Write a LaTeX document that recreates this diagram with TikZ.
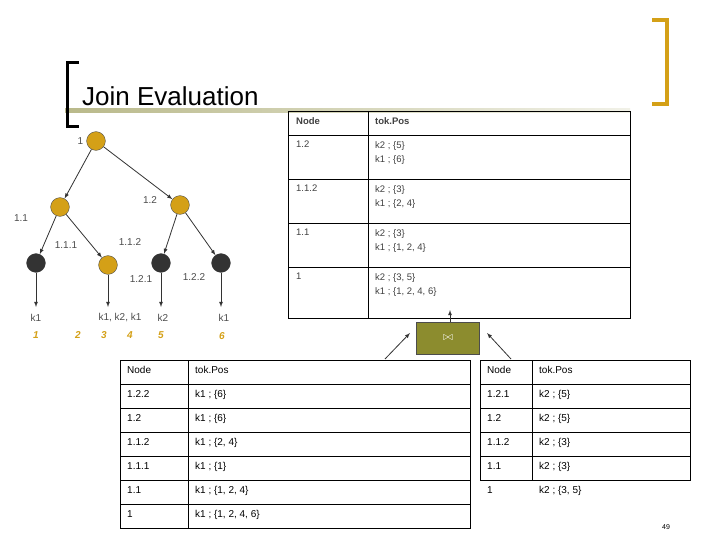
\documentclass[tikz,border=0pt]{standalone}
\usepackage{fontspec}
\setmainfont{Liberation Sans}
\usetikzlibrary{positioning}
\definecolor{gold}{HTML}{D4A017}
\definecolor{olivebox}{HTML}{8C8C2E}
\definecolor{ttl}{HTML}{B9B98A}
\tikzset{%
  gnode/.style={circle, draw=black!70, fill=gold, minimum size=6.6mm, inner sep=0pt},
  leafnode/.style={circle, draw=black!80, fill=black!80, minimum size=6.6mm, inner sep=0pt},
  lbl/.style={font=\fontsize{10}{12}\selectfont, text=black!70, inner sep=1pt},
  tokpos/.style={font=\fontsize{10}{12}\selectfont\itshape\bfseries, text=gold, inner sep=1pt},
  cell/.style={font=\fontsize{9.5}{14}\selectfont, text=black!75, anchor=north west, align=left, inner sep=0pt},
  head/.style={cell, font=\fontsize{9.5}{14}\selectfont\bfseries},
  arr/.style={-latex, thick, black!80},
}
\begin{document}
\begin{tikzpicture}[x=1pt,y=-1pt]
  \useasboundingbox (0,0) rectangle (720,540);
  % title
  \shade[left color=ttl, right color=ttl!20] (65,109) rectangle (630,113);
  \draw[line width=3pt] (79,63) -- (67,63) -- (67,127) -- (79,127);
  \draw[line width=4pt, gold] (652,20) -- (667,20) -- (667,104) -- (652,104);
  \node[font=\fontsize{26}{30}\selectfont, anchor=base west, inner sep=0pt] (title) at (82,106) {Join Evaluation};
  % tree
  \node[gnode] (n1) at (96,141) {};
  \node[gnode] (n11) at (60,207) {};
  \node[gnode] (n12) at (180,205) {};
  \node[leafnode] (n111) at (36,263) {};
  \node[gnode] (n112) at (108,265) {};
  \node[leafnode] (n121) at (161,263) {};
  \node[leafnode] (n122) at (221,263) {};
  \node[lbl, left=2pt of n1] {1};
  \node[lbl] at (21,218) {1.1};
  \node[lbl] at (150,200) {1.2};
  \node[lbl] at (66,245) {1.1.1};
  \node[lbl] at (130,242) {1.1.2};
  \node[lbl] at (141,279) {1.2.1};
  \node[lbl] at (194,277) {1.2.2};
  \coordinate (e1) at (36,307);
  \coordinate (e2) at (108,307);
  \coordinate (e3) at (161,307);
  \coordinate (e4) at (221,307);
  \node[lbl] at (36,318) {k1};
  \node[lbl] at (120,318) {k1, k2, k1};
  \node[lbl] at (163,318) {k2};
  \node[lbl] at (224,318) {k1};
  \node[tokpos] at (36,335) {1};
  \node[tokpos] at (78,335) {2};
  \node[tokpos] at (104,335) {3};
  \node[tokpos] at (130,335) {4};
  \node[tokpos] at (161,335) {5};
  \node[tokpos] at (222,336) {6};
  \draw[arr] (n1) -- (n11);
  \draw[arr] (n1) -- (n12);
  \draw[arr] (n11) -- (n111);
  \draw[arr] (n11) -- (n112);
  \draw[arr] (n12) -- (n121);
  \draw[arr] (n12) -- (n122);
  \draw[arr] (n111) -- (e1);
  \draw[arr] (n112) -- (e2);
  \draw[arr] (n121) -- (e3);
  \draw[arr] (n122) -- (e4);
  % result table
  \draw[thick] (288,111) rectangle (630,318);
  \draw[thick] (368,111) -- (368,318);
  \foreach \y in {135,179,223,267} \draw[thick] (288,\y) -- (630,\y);
  \node[head] at (296,117) {Node};
  \node[head] at (375,117) {tok.Pos};
  \node[cell] at (296,141) {1.2};
  \node[cell] at (375,141) {k2 ; \{5\}\\k1 ; \{6\}};
  \node[cell] at (296,185) {1.1.2};
  \node[cell] at (375,185) {k2 ; \{3\}\\k1 ; \{2, 4\}};
  \node[cell] at (296,229) {1.1};
  \node[cell] at (375,229) {k2 ; \{3\}\\k1 ; \{1, 2, 4\}};
  \node[cell] at (296,273) {1};
  \node[cell] at (375,273) {k2 ; \{3, 5\}\\k1 ; \{1, 2, 4, 6\}};
  % join
  \node[draw=black!70, fill=olivebox, minimum width=63pt, minimum height=32pt, text=white, font=\bfseries\large] (join) at (448,338) {$\bowtie$};
  \coordinate (jl) at (385,359);
  \coordinate (jr) at (511,359);
  \coordinate (jt) at (450,310);
  \draw[arr] (jl) -- (410,333);
  \draw[arr] (jr) -- (487,333);
  \draw[arr] (join.north -| jt) -- (jt);
  % left table
  \draw (120,360) rectangle (470,528);
  \draw (188,360) -- (188,528);
  \foreach \y in {384,408,432,456,480,504} \draw (120,\y) -- (470,\y);
  \foreach \n/\t [count=\i from 0] in {Node/tok.Pos, 1.2.2/{k1 ; \{6\}}, 1.2/{k1 ; \{6\}}, 1.1.2/{k1 ; \{2, 4\}}, 1.1.1/{k1 ; \{1\}}, 1.1/{k1 ; \{1, 2, 4\}}, 1/{k1 ; \{1, 2, 4, 6\}}} {
    \node[cell, font=\fontsize{10}{12}\selectfont, text=black] at (127,366+24*\i) {\n};
    \node[cell, font=\fontsize{10}{12}\selectfont, text=black] at (195,366+24*\i) {\t};
  }
  % right table
  \draw (480,360) rectangle (690,480);
  \draw (532,360) -- (532,480);
  \foreach \y in {384,408,432,456} \draw (480,\y) -- (690,\y);
  \foreach \n/\t [count=\i from 0] in {Node/tok.Pos, 1.2.1/{k2 ; \{5\}}, 1.2/{k2 ; \{5\}}, 1.1.2/{k2 ; \{3\}}, 1.1/{k2 ; \{3\}}, 1/{k2 ; \{3, 5\}}} {
    \node[cell, font=\fontsize{10}{12}\selectfont, text=black] at (487,366+24*\i) {\n};
    \node[cell, font=\fontsize{10}{12}\selectfont, text=black] at (539,366+24*\i) {\t};
  }
  \node[font=\fontsize{7}{8}\selectfont] (page) at (666,527) {49};
\end{tikzpicture}
\end{document}
